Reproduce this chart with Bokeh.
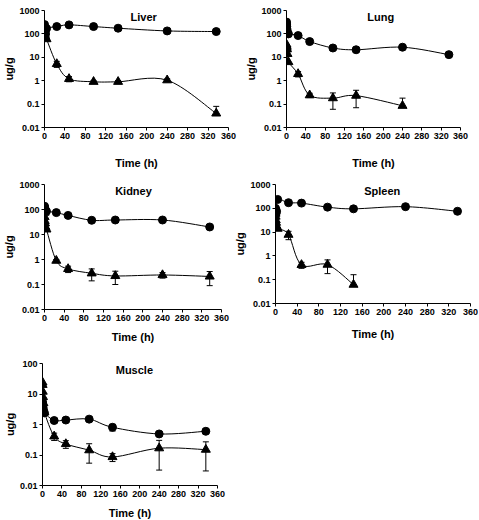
from bokeh.plotting import figure
from bokeh.models import (Range1d, FixedTicker, CustomJSTickFormatter, Label,
                          Whisker, ColumnDataSource, TeeHead)
from bokeh.layouts import column, row
from bokeh.embed import file_html
from bokeh.resources import INLINE
import numpy as np

# ---------------- data ----------------
TIME = [0.083, 0.25, 0.5, 1, 2, 4, 24, 48, 96, 144, 240, 336]
X_TICKS = [0, 40, 80, 120, 160, 200, 240, 280, 320, 360]
Y_TICKS_5DEC = [0.01, 0.1, 1, 10, 100, 1000]
Y_TICKS_4DEC = [0.01, 0.1, 1, 10, 100]

liver_circle = [250, 190, 150, 120, 100, 170, 206, 243, 206, 175, 134, 126]
liver_circle_sd = [0, 0, 0, 0, 0, 0, 20, 25, 15, 15, 10, 12]
liver_tri = [120, 100, 90, 80, 70, 60, 5.2, 1.2, 0.9, 0.9, 1.05, 0.04]
liver_tri_sd = [0, 0, 0, 0, 0, 0, 1.5, 0.3, 0.1, 0.12, 0.15, 0.04]

lung_circle = [320, 260, 210, 160, 120, 100, 85, 47, 25, 21, 27, 13]
lung_circle_sd = [0, 0, 0, 0, 0, 0, 8, 8, 3, 3, 4, 2]
lung_tri = [35, 30, 26, 22, 14, 6.3, 1.95, 0.24, 0.18, 0.23, 0.085]
lung_tri_sd = [0, 0, 0, 0, 0, 0, 0.5, 0.05, 0.12, 0.16, 0.095]

kidney_circle = [135, 120, 110, 100, 90, 85, 75, 58, 37, 38, 38, 20]
kidney_circle_sd = [0, 0, 0, 0, 0, 0, 8, 8, 4, 4, 4, 3]
kidney_tri = [75, 50, 35, 28, 20, 16, 0.9, 0.42, 0.28, 0.22, 0.24, 0.21]
kidney_tri_sd = [0, 0, 0, 0, 0, 0, 0.1, 0.12, 0.14, 0.12, 0.06, 0.12]

spleen_circle = [100, 85, 70, 60, 75, 235, 172, 165, 112, 95, 117, 75]
spleen_circle_sd = [0, 0, 0, 0, 0, 0, 20, 20, 10, 10, 10, 12]
spleen_tri = [60, 45, 32, 25, 18, 14, 7.8, 0.42, 0.43, 0.062]
spleen_tri_sd = [0, 0, 0, 0, 0, 0, 3, 0.12, 0.25, 0.1]

muscle_circle = [5.5, 4.8, 4.2, 3.6, 3.0, 2.4, 1.35, 1.4, 1.5, 0.81, 0.49, 0.6]
muscle_circle_sd = [0, 0, 0, 0, 0, 0, 0.2, 0.15, 0.15, 0.2, 0.06, 0.1]
muscle_tri = [24, 20, 12, 8, 5, 2.5, 0.41, 0.23, 0.144, 0.086, 0.167, 0.15]
muscle_tri_sd = [0, 0, 0, 0, 0, 0, 0.11, 0.065, 0.09, 0.025, 0.135, 0.12]

FONT = "Liberation Sans"


def smooth_curve(p, t, v):
    """Smoothed line (spreadsheet-style), computed in (t, log10 v) space
    and drawn with Bokeh's bezier glyph."""
    x = np.asarray(t, float)
    y = np.log10(np.asarray(v, float))
    n = len(x)
    x0, y0, x1, y1, cx0, cy0, cx1, cy1 = ([] for _ in range(8))
    for i in range(n - 1):
        im = max(i - 1, 0)
        ip = min(i + 2, n - 1)
        c0x = x[i] + (x[i + 1] - x[im]) / 6.0
        c0y = y[i] + (y[i + 1] - y[im]) / 6.0
        c1x = x[i + 1] - (x[ip] - x[i]) / 6.0
        c1y = y[i + 1] - (y[ip] - y[i]) / 6.0
        x0.append(x[i]); y0.append(10 ** y[i])
        x1.append(x[i + 1]); y1.append(10 ** y[i + 1])
        cx0.append(c0x); cy0.append(10 ** c0y)
        cx1.append(c1x); cy1.append(10 ** c1y)
    p.bezier(x0=x0, y0=y0, x1=x1, y1=y1, cx0=cx0, cy0=cy0, cx1=cx1, cy1=cy1,
             line_color="black", line_width=1)


def add_errors(p, t, v, sd):
    full_b, full_lo, full_hi = [], [], []
    up_b, up_lo, up_hi = [], [], []
    for ti, vi, si in zip(t, v, sd):
        if si <= 0:
            continue
        if vi - si > 0:
            full_b.append(ti); full_lo.append(vi - si); full_hi.append(vi + si)
        else:
            up_b.append(ti); up_lo.append(vi); up_hi.append(vi + si)
    if full_b:
        src = ColumnDataSource(dict(base=full_b, lower=full_lo, upper=full_hi))
        p.add_layout(Whisker(source=src, base="base", lower="lower", upper="upper",
                             dimension="height", line_color="black", line_width=1,
                             upper_head=TeeHead(size=6, line_color="black", line_width=1),
                             lower_head=TeeHead(size=6, line_color="black", line_width=1)))
    if up_b:
        src = ColumnDataSource(dict(base=up_b, lower=up_lo, upper=up_hi))
        p.add_layout(Whisker(source=src, base="base", lower="lower", upper="upper",
                             dimension="height", line_color="black", line_width=1,
                             upper_head=TeeHead(size=6, line_color="black", line_width=1),
                             lower_head=None))


def panel(name, circ, circ_sd, tri, tri_sd, y_ticks, fw, fh, left, right, top,
          bottom, title_x, title_y, label_standoff):
    p = figure(frame_width=fw, frame_height=fh, y_axis_type="log",
               x_range=Range1d(0, 360), y_range=Range1d(y_ticks[0], y_ticks[-1]),
               output_backend="svg", toolbar_location=None,
               min_border_left=left, min_border_right=right,
               min_border_top=top, min_border_bottom=bottom,
               background_fill_color="white", border_fill_color="white")
    p.outline_line_color = None
    p.xgrid.visible = False
    p.ygrid.visible = False
    p.xaxis.ticker = FixedTicker(ticks=X_TICKS, minor_ticks=[])
    p.yaxis.ticker = FixedTicker(ticks=y_ticks, minor_ticks=[])
    p.yaxis.formatter = CustomJSTickFormatter(code="""
        if (tick >= 1) { return Math.round(tick).toString(); }
        return parseFloat(tick.toPrecision(1)).toString();
    """)
    for ax in (p.xaxis[0], p.yaxis[0]):
        ax.axis_line_color = "black"
        ax.major_tick_line_color = "black"
        ax.major_tick_out = 3
        ax.major_tick_in = 0
        ax.minor_tick_line_color = None
        ax.major_label_text_font = FONT
        ax.major_label_text_font_style = "bold"
        ax.major_label_text_font_size = "9px"
        ax.major_label_text_color = "black"
        ax.axis_label_text_font = FONT
        ax.axis_label_text_font_style = "bold"
        ax.axis_label_text_font_size = "11px"
        ax.axis_label_text_color = "black"
        ax.major_label_standoff = 2
    p.xaxis.axis_label = "Time (h)"
    p.yaxis.axis_label = "ug/g"
    p.xaxis.axis_label_standoff = label_standoff
    p.yaxis.axis_label_standoff = 1

    t_c = TIME[:len(circ)]
    t_t = TIME[:len(tri)]
    smooth_curve(p, t_c, circ)
    smooth_curve(p, t_t, tri)
    add_errors(p, t_c, circ, circ_sd)
    add_errors(p, t_t, tri, tri_sd)
    p.scatter(t_c, circ, marker="circle", size=8, fill_color="black", line_color="black")
    p.scatter(t_t, tri, marker="triangle", size=9, fill_color="black", line_color="black")

    p.add_layout(Label(x=title_x, y=title_y, text=name, text_font=FONT,
                       text_font_style="bold", text_font_size="11px",
                       text_align="center", text_baseline="middle",
                       text_color="black"))
    return p


#                                                  y ticks      fw   fh  left right top bottom  title_x title_y standoff
liver = panel("Liver", liver_circle, liver_circle_sd, liver_tri, liver_tri_sd,
              Y_TICKS_5DEC, 184, 117, 35, 14, 10, 45, 194, 527, 15)
lung = panel("Lung", lung_circle, lung_circle_sd, lung_tri, lung_tri_sd,
             Y_TICKS_5DEC, 174, 117, 38, 18, 10, 45, 195, 517, 15)
kidney = panel("Kidney", kidney_circle, kidney_circle_sd, kidney_tri, kidney_tri_sd,
               Y_TICKS_5DEC, 177, 125, 35, 10, 12, 36, 181, 570, 7)
spleen = panel("Spleen", spleen_circle, spleen_circle_sd, spleen_tri, spleen_tri_sd,
               Y_TICKS_5DEC, 195, 119, 38, 8, 10, 44, 197, 555, 10)
muscle = panel("Muscle", muscle_circle, muscle_circle_sd, muscle_tri, muscle_tri_sd,
               Y_TICKS_4DEC, 175, 122, 35, 10, 18, 36, 189, 62, 7)

layout = column(row(liver, lung), row(kidney, spleen), row(muscle))

open("out.html", "w").write(file_html(layout, INLINE))
